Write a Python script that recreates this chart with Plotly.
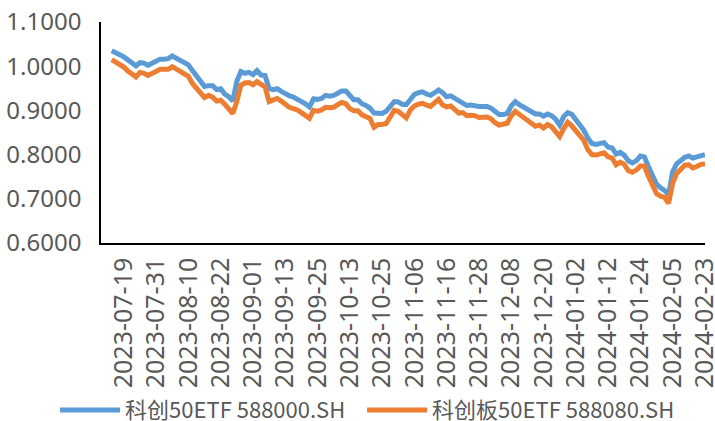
import pandas as pd
import plotly.graph_objects as go

# Trading calendar (categories)
start_date = "2023-07-14"
end_date = "2024-02-23"
holidays = ["2023-09-29", "2023-10-02", "2023-10-03", "2023-10-04", "2023-10-05",
            "2023-10-06", "2024-01-01", "2024-02-09", "2024-02-12", "2024-02-13",
            "2024-02-14", "2024-02-15", "2024-02-16"]
dates = [d.strftime("%Y-%m-%d") for d in pd.bdate_range(start_date, end_date)
         if d.strftime("%Y-%m-%d") not in holidays]

tick_labels = ["2023-07-19", "2023-07-31", "2023-08-10", "2023-08-22", "2023-09-01",
               "2023-09-13", "2023-09-25", "2023-10-13", "2023-10-25", "2023-11-06",
               "2023-11-16", "2023-11-28", "2023-12-08", "2023-12-20", "2024-01-02",
               "2024-01-12", "2024-01-24", "2024-02-05", "2024-02-23"]

name_a = "科创50ETF 588000.SH"
name_b = "科创板50ETF 588080.SH"

kc50_588000 = [
    1.035, 1.029, 1.026, 1.021, 1.014, 1.005, 1.001, 1.008, 1.007, 1.002,
    1.006, 1.013, 1.016, 1.016, 1.017, 1.023, 1.018, 1.013, 1.009, 1.003,
    0.990, 0.979, 0.965, 0.954, 0.956, 0.956, 0.947, 0.949, 0.937, 0.931,
    0.921, 0.966, 0.988, 0.984, 0.986, 0.981, 0.990, 0.980, 0.979, 0.949,
    0.947, 0.949, 0.943, 0.937, 0.933, 0.930, 0.926, 0.921, 0.915, 0.908,
    0.926, 0.925, 0.927, 0.934, 0.932, 0.934, 0.939, 0.944, 0.944, 0.933,
    0.924, 0.924, 0.915, 0.911, 0.905, 0.894, 0.893, 0.893, 0.898, 0.910,
    0.920, 0.919, 0.914, 0.913, 0.926, 0.936, 0.940, 0.942, 0.937, 0.934,
    0.940, 0.946, 0.940, 0.931, 0.933, 0.928, 0.921, 0.916, 0.911, 0.912,
    0.910, 0.909, 0.909, 0.909, 0.905, 0.899, 0.891, 0.891, 0.893, 0.910,
    0.920, 0.913, 0.907, 0.902, 0.896, 0.892, 0.892, 0.887, 0.892, 0.888,
    0.880, 0.867, 0.886, 0.895, 0.891, 0.879, 0.868, 0.855, 0.837, 0.825,
    0.823, 0.825, 0.827, 0.817, 0.815, 0.801, 0.805, 0.799, 0.786, 0.781,
    0.786, 0.797, 0.795, 0.773, 0.751, 0.733, 0.725, 0.719, 0.709, 0.761,
    0.779, 0.788, 0.794, 0.797, 0.792, 0.795, 0.799, 0.800,
]

kcb50_588080 = [
    1.015, 1.010, 1.006, 0.998, 0.989, 0.982, 0.976, 0.986, 0.984, 0.979,
    0.984, 0.991, 0.993, 0.993, 0.993, 0.999, 0.994, 0.988, 0.983, 0.977,
    0.961, 0.951, 0.942, 0.929, 0.934, 0.930, 0.921, 0.923, 0.914, 0.902,
    0.893, 0.920, 0.957, 0.962, 0.963, 0.958, 0.965, 0.959, 0.953, 0.920,
    0.924, 0.927, 0.921, 0.913, 0.907, 0.904, 0.901, 0.895, 0.889, 0.882,
    0.900, 0.898, 0.901, 0.907, 0.906, 0.907, 0.913, 0.918, 0.915, 0.904,
    0.899, 0.899, 0.890, 0.886, 0.882, 0.862, 0.868, 0.868, 0.870, 0.885,
    0.900, 0.898, 0.892, 0.883, 0.901, 0.910, 0.914, 0.916, 0.912, 0.909,
    0.917, 0.925, 0.912, 0.908, 0.910, 0.902, 0.894, 0.895, 0.888, 0.889,
    0.888, 0.884, 0.884, 0.885, 0.881, 0.872, 0.867, 0.869, 0.871, 0.888,
    0.898, 0.891, 0.884, 0.878, 0.871, 0.864, 0.867, 0.860, 0.868, 0.863,
    0.852, 0.841, 0.859, 0.873, 0.865, 0.855, 0.845, 0.832, 0.811, 0.800,
    0.799, 0.801, 0.804, 0.795, 0.792, 0.777, 0.783, 0.778, 0.764, 0.760,
    0.765, 0.774, 0.774, 0.751, 0.728, 0.712, 0.706, 0.703, 0.690, 0.735,
    0.757, 0.768, 0.776, 0.777, 0.770, 0.773, 0.778, 0.779,
]

FONT = "Noto Sans, Noto Sans CJK SC, sans-serif"
TXT = "#595959"

fig = go.Figure()
fig.add_trace(go.Scatter(x=dates, y=kc50_588000, name=name_a, mode="lines",
                         line=dict(color="#5B9BD5", width=5), legendwidth=232))
fig.add_trace(go.Scatter(x=dates, y=kcb50_588080, name=name_b, mode="lines",
                         line=dict(color="#ED7D31", width=5), legendwidth=262))

fig.update_layout(
    width=715, height=421,
    margin=dict(l=101, r=10, t=22, b=178, autoexpand=False),
    paper_bgcolor="white", plot_bgcolor="white",
    font=dict(family=FONT, color=TXT, size=22),
    showlegend=True,
    legend=dict(orientation="h", x=-0.076, xanchor="left", y=-0.756, yanchor="middle",
                font=dict(family="Noto Sans CJK SC, Noto Sans, sans-serif", size=22, color=TXT),
                itemwidth=60, entrywidthmode="pixels",
                traceorder="normal", bgcolor="rgba(0,0,0,0)"),
)
fig.update_xaxes(
    type="category", categoryorder="array", categoryarray=dates,
    range=[-2.66, len(dates) - 1 + 0.02], automargin=False,
    tickmode="array", tickvals=tick_labels, ticktext=tick_labels,
    tickangle=-90, ticks="", showgrid=False, zeroline=False,
    showline=True, linecolor="#000000", linewidth=1.5,
    tickfont=dict(family=FONT, size=25, color=TXT),
    ticklabelstandoff=3,
)
fig.update_yaxes(
    range=[0.6, 1.1], dtick=0.1, tick0=0.6, tickformat=".4f", automargin=False,
    ticks="", showgrid=False, zeroline=False,
    showline=True, linecolor="#000000", linewidth=1.5,
    tickfont=dict(family=FONT, size=24, color=TXT),
    ticklabelstandoff=13,
)

fig.write_html("out.html", config={"displayModeBar": False},
               post_script="document.body.style.margin='0';document.body.style.overflow='hidden';")
